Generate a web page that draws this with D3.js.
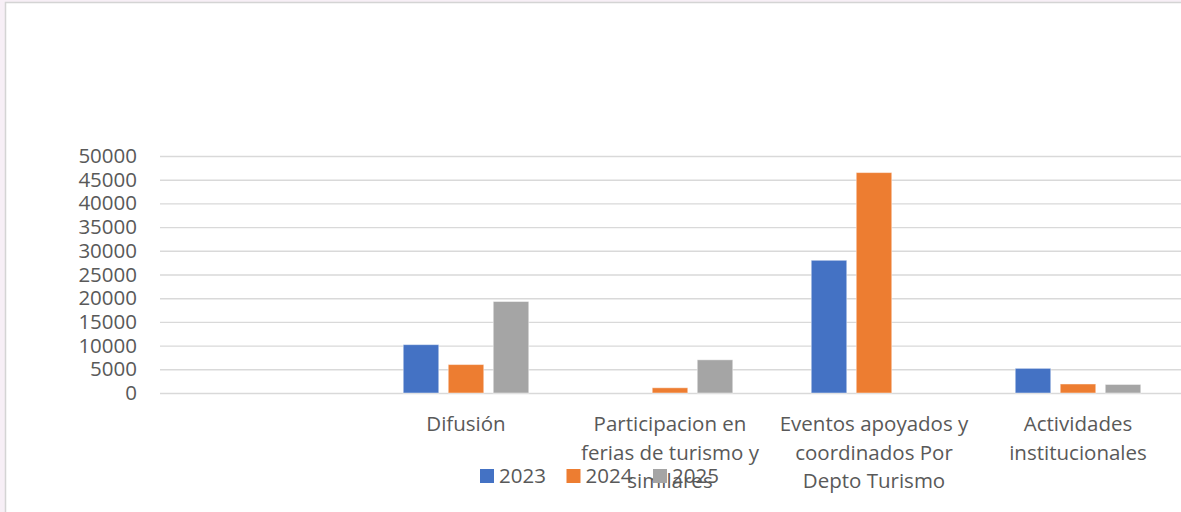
<!DOCTYPE html>
<html>
<head>
<meta charset="utf-8">
<script src="https://cdn.jsdelivr.net/npm/d3@7"></script>
<style>
  body { margin: 0; background: #f7eff6; }
  svg { display: block; }
  text { font-family: "Open Sans", sans-serif; fill: #595959; }
</style>
</head>
<body>
<div class="canvas"></div>
<script>
// data
const categories = ["", "Difusión", "Participacion en ferias de turismo y similares",
  "Eventos apoyados y coordinados Por Depto Turismo", "Actividades institucionales"];
const seriesNames = ["2023", "2024", "2025"];
const values2023 = [0, 10200, 0, 28000, 5200];
const values2024 = [0, 6000, 1100, 46500, 1900];
const values2025 = [0, 19300, 7000, 0, 1800];
const yTicks = [0, 5000, 10000, 15000, 20000, 25000, 30000, 35000, 40000, 45000, 50000];
const colors = ["#4472C4", "#ED7D31", "#A5A5A5"];

const width = 1181, height = 512;
const plot = {left: 160, right: 1180, top: 156, bottom: 393};

const svg = d3.select('.canvas')
  .append('svg')
  .attr('width', width)
  .attr('height', height);

// chart frame
svg.append('rect')
  .attr('x', 5.5).attr('y', 2.5)
  .attr('width', width).attr('height', height)
  .attr('fill', '#fff')
  .attr('stroke', '#d4d4d4')
  .attr('stroke-width', 1.5);

const rows = categories.map((c, i) => ({
  cat: c,
  vals: [values2023[i], values2024[i], values2025[i]]
}));

const x0 = d3.scaleBand().domain(categories).range([plot.left, plot.right]);
const x1 = d3.scaleBand().domain(seriesNames).range([0, x0.bandwidth()])
  .paddingInner(0.211).paddingOuter(0.872);
const y = d3.scaleLinear().domain([0, 50000]).range([plot.bottom, plot.top]);

// gridlines + y labels
const yAxis = svg.append('g')
  .attr('transform', `translate(${plot.left},0)`)
  .call(d3.axisLeft(y).tickValues(yTicks).tickFormat(d3.format('d'))
    .tickSize(-(plot.right - plot.left + 10)).tickPadding(23));
yAxis.select('.domain').remove();
yAxis.selectAll('line').attr('stroke', '#d9d9d9').attr('stroke-width', 1.4);
yAxis.selectAll('text').attr('font-size', 20.5).attr('fill', '#595959')
  .attr('font-family', '"Open Sans", sans-serif');

// bars
const groups = svg.append('g').selectAll('g').data(rows).join('g')
  .attr('transform', d => `translate(${x0(d.cat)},0)`);
groups.selectAll('rect')
  .data(d => d.vals.map((v, k) => ({name: seriesNames[k], v, k})).filter(e => e.v > 0))
  .join('rect')
  .attr('x', e => x1(e.name))
  .attr('width', x1.bandwidth())
  .attr('y', e => y(e.v))
  .attr('height', e => y(0) - y(e.v))
  .attr('fill', e => colors[e.k])
  .attr('stroke', '#fff')
  .attr('stroke-opacity', 0.45)
  .attr('stroke-width', 1);

// category labels, wrapped to the band width
const wrapWidth = 200;
const labels = svg.append('g').selectAll('text').data(categories).join('text')
  .attr('x', d => x0(d) + x0.bandwidth() / 2)
  .attr('y', 431)
  .attr('text-anchor', 'middle')
  .attr('font-size', 20.5);
labels.each(function(d) {
  const t = d3.select(this);
  const words = d.split(' ').filter(w => w);
  let line = [], n = 0;
  let ts = t.append('tspan').attr('x', t.attr('x')).attr('dy', 0);
  words.forEach(w => {
    line.push(w);
    ts.text(line.join(' '));
    if (ts.node().getComputedTextLength() > wrapWidth && line.length > 1) {
      line.pop();
      ts.text(line.join(' '));
      line = [w];
      n++;
      ts = t.append('tspan').attr('x', t.attr('x')).attr('dy', 28.7).text(w);
    }
  });
});

// legend
const legend = svg.append('g').selectAll('g').data(seriesNames).join('g')
  .attr('transform', (d, i) => `translate(${480 + i * 86.5},469)`);
legend.append('rect')
  .attr('width', 14).attr('height', 14)
  .attr('fill', (d, i) => colors[i]);
legend.append('text')
  .attr('x', 19).attr('y', 13.5)
  .attr('font-size', 20.5)
  .text(d => d);
</script>
</body>
</html>
